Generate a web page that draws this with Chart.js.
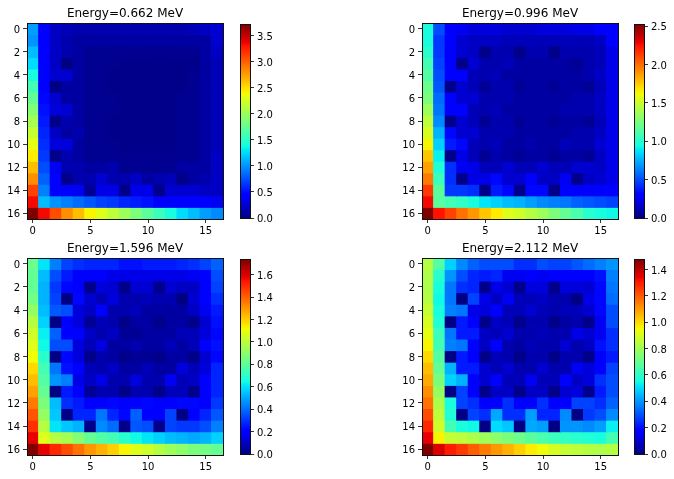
<!DOCTYPE html>
<html>
<head>
<meta charset="utf-8">
<script src="https://cdn.jsdelivr.net/npm/chart.js@4"></script>
<style>
html,body{margin:0;padding:0;background:#fff;width:674px;height:479px;overflow:hidden}
canvas{position:absolute}
</style>
</head>
<body>
<script>
const titles = ["Energy=0.662 MeV","Energy=0.996 MeV","Energy=1.596 MeV","Energy=2.112 MeV"];
const colorMax = [3.72,2.53,1.74,1.48];
const rowLabels = [0,2,4,6,8,10,12,14,16];
const colLabels = [0,5,10,15];
const barTicks0 = [0,0.5,1,1.5,2,2.5,3,3.5];
const barTicks1 = [0,0.5,1,1.5,2,2.5];
const barTicks2 = [0,0.2,0.4,0.6,0.8,1,1.2,1.4,1.6];
const barTicks3 = [0,0.2,0.4,0.6,0.8,1,1.2,1.4];
const barLabels0 = ["0.0","0.5","1.0","1.5","2.0","2.5","3.0","3.5"];
const barLabels1 = ["0.0","0.5","1.0","1.5","2.0","2.5"];
const barLabels2 = ["0.0","0.2","0.4","0.6","0.8","1.0","1.2","1.4","1.6"];
const barLabels3 = ["0.0","0.2","0.4","0.6","0.8","1.0","1.2","1.4"];
// cell readings, as percent of each panel's colour maximum
const cells0 = [
[28,11,6,5,4,4,4,4,4,4,4,4,4,4,5,6,7],
[27,12,6,4,3,3,3,3,3,3,3,3,3,3,3,3,7],
[31,12,6,4,3,1.5,1.5,1.5,1.5,1.5,1.5,1.5,1.5,1.5,1.5,3,6],
[34,12,6,0.5,3,1.5,1.5,1.5,1,1,1,1,1,1,1,3,5],
[38,12,7,7,3,1.5,1.5,1,1,1,1,1,1,1,1.5,3,5],
[43,12,0.5,3,3,1.5,1.5,1,1,1,1,1,1,1,1.5,3,5],
[47,13,7,3,3,1.5,1.5,1.5,1,1,1,1,1,1.5,1.5,3,5],
[51,14,8,7,3,1.5,1.5,1.5,1,1,1,1,1,1.5,1.5,3,5],
[55,15,1,4,3,1.5,1.5,1,1,1,1,1,1,1.5,1.5,3,5],
[59,16,6,3,4,1.5,1.5,1,1,1,1,1,1,1.5,1.5,3,5],
[63,17,8,8,3,1.5,1.5,1.5,1,1,1,1,1,1.5,1.5,3,5],
[66,18,1,4,3,1.5,1.5,1.5,1.5,1.5,1.5,1.5,1.5,1.5,1.5,3,6],
[71,20,10,4,4,3,3,4,1.5,1.5,1.5,1.5,1.5,3,3,3,6],
[76,22,11,1,4,4,7,4,4,6,3,4,5,1,3,4,6],
[84,25,11,11,10,2,9,9,1,9,9,1,7,7,7,6,6],
[90,31,27,25,23,21,19,18,16,15,14,12,12,11,11,11,10],
[100,90,83,76,71,65,62,58,54,50,46,42,38,34,31,28,26]];
const cells1 = [
[38,20,11,10,8,8,8,7,7,7,8,8,8,9,9,11,12],
[38,18,11,7,6,6,6,5,5,5,5,5,5,5,5,6,11],
[40,18,11,7,6,1,4,4,1,4,4,1,4,4,4,5,9],
[43,19,11,1,7,4,4,5,3,3,3,3,3,2,4,5,9],
[45,20,11,11,5,4,5,3,3,3,3,3,3,3,4,6,9],
[48,21,1,7,5,2,4,4,2,3,3,2,3,3,2,5,9],
[50,23,11,7,7,4,4,4,3,3,3,3,3,4,4,6,9],
[54,24,11,11,5,4,5,3,3,3,3,3,4,4,4,6,9],
[58,26,1,7,5,2,4,4,2,3,3,2,3,3,2,5,9],
[61,30,13,7,7,4,4,4,3,3,3,3,3,4,4,6,9],
[65,33,15,13,5,4,5,3,3,4,3,3,5,4,4,7,9],
[70,36,1,9,5,2,4,3,2,3,3,2,3,3,2,6,9],
[74,39,17,10,9,5,5,7,5,5,7,5,5,7,7,6,9],
[78,42,17,1,9,9,13,7,7,11,6,6,10,1,6,7,9],
[85,46,18,18,17,1,15,13,1,13,13,1,11,11,11,11,11],
[90,46,43,41,38,35,33,31,30,28,26,25,24,22,21,20,19],
[100,89,84,79,75,70,66,62,60,57,54,50,47,44,40,38,37]];
const cells2 = [
[48,35,25,19,17,16,16,16,14,14,15,15,15,16,17,19,22],
[47,31,20,15,11,11,11,9,9,9,9,9,9,9,10,11,20],
[47,30,18,13,12,1,8,7,1,7,7,1,7,6,6,11,19],
[49,30,19,0.5,13,7,5,8,4,4,5,4,4,0.5,7,11,17],
[53,31,21,20,8,6,11,4,4,5,3,3,3,3,6,10,15],
[57,33,0.5,12,8,2,5,4,1,3,3,1,3,3,1,7,14],
[60,36,22,12,12,6,4,6,2,2,3,3,3,5,5,8,13],
[62,37,20,20,8,5,8,3,3,4,3,3,5,3,5,11,14],
[64,40,0.5,13,8,1,4,3,1,2,2,1,3,3,1,7,13],
[68,43,24,14,12,5,4,6,3,3,5,3,3,8,5,8,16],
[71,45,27,25,9,6,9,4,4,8,4,4,10,5,6,12,16],
[74,47,0.5,15,11,2,4,4,1,4,4,1,5,5,1,11,16],
[78,50,31,17,15,11,11,13,11,11,13,11,11,13,13,11,18],
[82,53,32,0.5,16,16,24,16,13,22,12,12,19,0.5,12,16,21],
[86,57,35,32,30,1,26,23,1,21,20,1,19,18,18,20,25],
[91,62,57,55,51,47,45,43,40,37,35,33,31,30,29,30,33],
[100,91,87,83,79,75,72,69,65,62,60,57,54,52,50,49,47]];
const cells3 = [
[57,45,33,26,22,20,20,20,17,17,20,19,19,21,23,25,27],
[56,40,27,20,16,15,16,10,10,12,10,11,11,11,12,14,25],
[56,38,24,17,16,1,9,7,1,8,8,1,8,8,7,13,24],
[57,37,24,0.5,19,9,6,10,5,5,6,4,4,0.5,9,13,23],
[59,38,25,24,9,8,11,5,5,7,5,4,5,5,7,13,20],
[61,39,0.5,15,11,1,6,5,1,4,4,1,3,4,1,10,20],
[63,42,24,15,15,6,5,7,4,4,5,4,4,9,7,10,17],
[65,43,25,24,11,6,11,4,3,5,4,4,7,4,6,14,17],
[68,45,0.5,15,11,1,5,4,1,4,4,1,4,4,1,11,15],
[71,47,30,15,15,7,5,7,4,4,7,4,4,10,8,11,19],
[73,50,33,30,11,7,12,5,5,10,5,5,11,6,8,17,20],
[76,53,0.5,19,12,1,6,6,1,6,6,1,7,8,1,15,20],
[79,56,38,19,17,12,12,17,12,12,17,12,12,19,19,17,22],
[83,58,39,0.5,19,17,29,17,17,28,16,16,26,0.5,18,20,26],
[87,60,43,38,37,0.5,34,32,0.5,29,28,0.5,27,27,26,28,36],
[91,65,59,58,56,54,52,50,48,46,44,42,41,40,39,38,43],
[100,92,88,85,81,78,75,72,69,66,64,61,59,58,57,56,57]];
const allCells = [cells0,cells1,cells2,cells3];
const allBarTicks = [barTicks0,barTicks1,barTicks2,barTicks3];
const allBarLabels = [barLabels0,barLabels1,barLabels2,barLabels3];

const plotLeft = [27,422,27,422];
const plotTop = [23,23,258,258];
const plotH = [196,196,197,197];
const plotW = 196;
const barLeft = [240,634,240,634];
const barW = 10;
const FONT = "'DejaVu Sans'";

const jetR=[[0,0],[0.35,0],[0.66,1],[0.89,1],[1,0.5]];
const jetG=[[0,0],[0.125,0],[0.375,1],[0.64,1],[0.91,0],[1,0]];
const jetB=[[0,0.5],[0.11,1],[0.34,1],[0.65,0],[1,0]];
function lerp(tbl,x){
  for(let i=1;i<tbl.length;i++){
    if(x<=tbl[i][0]){const a=tbl[i-1],b=tbl[i];return a[1]+(b[1]-a[1])*(x-a[0])/(b[0]-a[0]);}
  }
  return tbl[tbl.length-1][1];
}
function jet(x){
  const c=t=>Math.round(255*lerp(t,x));
  return `rgb(${c(jetR)},${c(jetG)},${c(jetB)})`;
}
const frame = {id:'frame',afterDraw(ch){
  const a=ch.chartArea,g=ch.ctx;
  g.save();g.strokeStyle='#111';g.lineWidth=1;
  g.strokeRect(a.left+0.5,a.top+0.5,a.right-a.left,a.bottom-a.top);g.restore();
}};
function tickScale(list,extra,labels,pad,shift){
  return Object.assign({
    afterBuildTicks:s=>{s.ticks=list.map(v=>({value:v}));},
    grid:{offset:false,drawOnChartArea:false,drawTicks:true,tickLength:4,tickColor:'#000',tickWidth:0.8},
    border:{display:false},
    ticks:{autoSkip:false,maxRotation:0,minRotation:0,padding:pad,labelOffset:shift,color:'#000',font:{family:FONT,size:10},
      callback:labels?(v,i)=>labels[i]:(v=>String(v))}
  },extra);
}
function place(canvas,left,top,w,h){
  canvas.style.left=left+'px';canvas.style.top=top+'px';
  canvas.style.width=w+'px';canvas.style.height=h+'px';
  canvas.width=w;canvas.height=h;
  document.body.appendChild(canvas);
}
titles.forEach((title,p)=>{
  const LM=26,BM=24,TM=24,RM=8;
  const H=plotH[p]; const vmax=colorMax[p];
  const c=document.createElement('canvas');
  place(c,plotLeft[p]-LM,plotTop[p]-TM,LM+plotW+RM,TM+H+BM);
  const datasets=allCells[p].map((row,r)=>({
    data:row.map((v,col)=>({x:col,y:[r-0.5,r+0.5]})),
    backgroundColor:row.map(v=>jet(v/100)),
    borderWidth:0,inflateAmount:0.4,grouped:false,
    barPercentage:1,categoryPercentage:1
  }));
  new Chart(c,{type:'bar',data:{datasets},options:{
    responsive:false,animation:false,
    layout:{padding:{left:0,right:RM,top:0,bottom:0}},
    plugins:{legend:{display:false},tooltip:{enabled:false},
      title:{display:true,fullSize:false,text:title,color:'#000',font:{family:FONT,size:12,weight:'normal'},padding:{top:8,bottom:1.6}}},
    scales:{
      x:tickScale(colLabels,{type:'linear',min:-0.5,max:16.5,offset:false,afterFit:s=>{s.height=BM;}},null,2,0),
      y:tickScale(rowLabels,{type:'linear',reverse:true,min:-0.5,max:16.5,offset:false,afterFit:s=>{s.width=LM;}},null,3,1.5)
    }
  },plugins:[frame]});

  const b=document.createElement('canvas');
  const PAD=8,AX=42;
  place(b,barLeft[p],plotTop[p]-PAD,barW+AX,H+2*PAD);
  const levels=[];for(let i=0;i<256;i++)levels.push((i+0.5)/256);
  new Chart(b,{type:'bar',data:{datasets:[{
    data:levels.map(t=>({x:[0,1],y:t*vmax})),
    backgroundColor:levels.map(jet),
    borderWidth:0,inflateAmount:0.5,barPercentage:1,categoryPercentage:1
  }]},options:{
    indexAxis:'y',responsive:false,animation:false,
    layout:{padding:{left:0,right:0,top:PAD,bottom:PAD}},
    plugins:{legend:{display:false},tooltip:{enabled:false}},
    scales:{
      x:{type:'linear',min:0,max:1,display:false},
      y:tickScale(allBarTicks[p],{type:'linear',position:'right',min:0,max:vmax,offset:false,afterFit:s=>{s.width=AX;}},allBarLabels[p],3,1.5)
    }
  },plugins:[frame]});
});
</script>
</body>
</html>
